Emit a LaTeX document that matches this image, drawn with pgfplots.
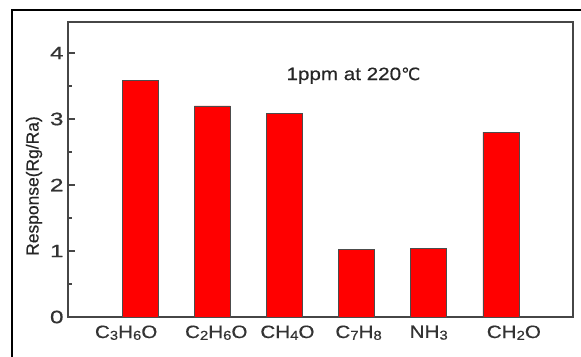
\documentclass[border=0pt]{standalone}
\usepackage{fontspec}
\setmainfont{Liberation Sans}[FakeStretch=1.15, FakeBold=0.4]
\newfontfamily\plainsans{Liberation Sans}[FakeBold=0.4]
\newfontfamily\ticksans{Liberation Sans}[FakeStretch=1.35, FakeBold=0.6]
\newfontfamily\dejavu{DejaVu Sans}[FakeBold=0.3]
\usepackage{pgfplots}
\pgfplotsset{compat=1.18}
\definecolor{axisgray}{RGB}{70,70,70}
\newcommand\sub[1]{\raisebox{-0.1em}{\fontsize{13}{13}\selectfont #1}}
% shift a label sideways by half of #1
\newcommand\sh[2]{\makebox[0pt]{\hspace*{#1}#2}}
\begin{document}
\begin{tikzpicture}[x=1bp,y=1bp]
\path[use as bounding box] (0,0) rectangle (581,356);
\fill[white] (0,0) rectangle (581,356);
\draw[line width=2bp, black] (12,-2) -- (12,346) -- (583,346);
\begin{axis}[
  at={(68bp,39bp)}, anchor=south west,
  width=505bp, height=295bp, scale only axis,
  xmin=0, xmax=7, ymin=0, ymax=4.47,
  ybar, bar width=36bp,
  xtick={1,2,3,4,5,6},
  xticklabels={\sh{-28bp}{C\sub{3}H\sub{6}O}, \sh{8bp}{C\sub{2}H\sub{6}O}, \sh{6bp}{CH\sub{4}O}, \sh{4bp}{C\sub{7}H\sub{8}}, \sh{0bp}{NH\sub{3}}, \sh{26bp}{CH\sub{2}O}},
  ytick={0,1,2,3,4},
  minor ytick={0.5,1.5,2.5,3.5},
  ytick pos=left,
  tick align=inside,
  major tick length=7bp, minor tick length=4bp,
  x tick style={draw=none},
  y tick style={draw=axisgray, line width=1.2bp},
  axis line style={draw=axisgray, line width=1.3bp},
  /pgf/number format/assume math mode=true,
  xticklabel style={font=\fontsize{18}{18}\selectfont, text=black!80, yshift=-5bp},
  yticklabel style={font=\ticksans\fontsize{18}{18}\selectfont, text=black!80, xshift=-1bp},
]
\addplot[fill=red, draw=black!70, line width=0.6bp] coordinates {
  (1,3.59) (2,3.2) (3,3.09) (4,1.03) (5,1.04) (6,2.8)
};
\node[anchor=base west, font=\fontsize{18}{18}\selectfont, text=black!85] at (axis cs:2.98,3.59) {1ppm at 220{\fontsize{17}{17}\selectfont\dejavu ℃}};
\end{axis}
\node[rotate=90, font=\plainsans\fontsize{17.5}{17.5}\selectfont, text=black!85] at (34,170) {Response(Rg/Ra)};
\end{tikzpicture}
\end{document}
